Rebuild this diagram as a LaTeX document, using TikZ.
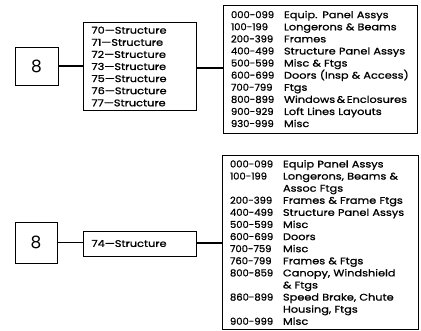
\documentclass[tikz,border=0pt]{standalone}
\usepackage{fontspec}
\setmainfont{Poppins}
\newfontfamily\listfont{Poppins}[FakeStretch=1.18, FakeBold=1]
\newfontfamily\numfont{Poppins}[FakeStretch=1.04, FakeBold=1]

\newcommand\rng[2]{\mbox{\makebox[53pt][l]{\numfont #1}#2}}

\tikzset{
  box/.style={draw, line width=0.8pt, inner sep=0pt},
  link/.style={line width=1.8pt},
  digit/.style={box, font=\fontsize{17}{19}\selectfont},
  list/.style={box, align=left, text width=#1, font=\listfont\fontsize{9.6}{12.1}\selectfont}
}

\begin{document}
\begin{tikzpicture}[x=1pt, y=-1pt]

        \useasboundingbox (0,0) rectangle (421,330);

        % upper chart
        \node[digit, minimum width=43pt, minimum height=38pt] (top8) at (36.5,66) {8};
        \node[list=96pt, minimum width=113pt, minimum height=88pt] (topstr) at (139.5,66.5)
          {70—Structure\\71—Structure\\72—Structure\\73—Structure\\75—Structure\\76—Structure\\77—Structure};
        \node[list=178pt, minimum width=194pt, minimum height=128pt] (toplist) at (320,69)
          {\rng{000-099}{Equip. Panel Assys}\\
           \rng{100-199}{Longerons \& Beams}\\
           \rng{200-399}{Frames}\\
           \rng{400-499}{Structure Panel Assys}\\
           \rng{500-599}{Misc \& Ftgs}\\
           \rng{600-699}{Doors (Insp \& Access)}\\
           \rng{700-799}{Ftgs}\\
           \rng{800-899}{Windows\,\&\,Enclosures}\\
           \rng{900-929}{Loft Lines Layouts}\\
           \rng{930-999}{Misc}};

        \draw[link] (top8) -- (top8 -| topstr.west);
        \draw[link] (topstr.east |- 0,68) -- (toplist.west |- 0,68);

        % lower chart
        \node[digit, minimum width=42pt, minimum height=41pt] (bot8) at (36,242.5) {8};
        \node[list=96pt, minimum width=113pt, minimum height=25pt] (botstr) at (139.5,243.5) {74—Structure};
        \node[list=180pt, minimum width=196pt, minimum height=174pt] (botlist) at (320,242.5)
          {\rng{000-099}{Equip Panel Assys}\\
           \rng{100-199}{Longerons, Beams \&}\\
           \rng{}{Assoc Ftgs}\\
           \rng{200-399}{Frames \& Frame Ftgs}\\
           \rng{400-499}{Structure Panel Assys}\\
           \rng{500-599}{Misc}\\
           \rng{600-699}{Doors}\\
           \rng{700-759}{Misc}\\
           \rng{760-799}{Frames \& Ftgs}\\
           \rng{800-859}{Canopy, Windshield}\\
           \rng{}{\& Ftgs}\\
           \rng{860-899}{Speed Brake, Chute}\\
           \rng{}{Housing, Ftgs}\\
           \rng{900-999}{Misc}};

        \draw[link] (bot8) -- (bot8 -| botstr.west);
        \draw[link] (botstr.east |- 0,243) -- (botlist.west |- 0,243);

\end{tikzpicture}
\end{document}
